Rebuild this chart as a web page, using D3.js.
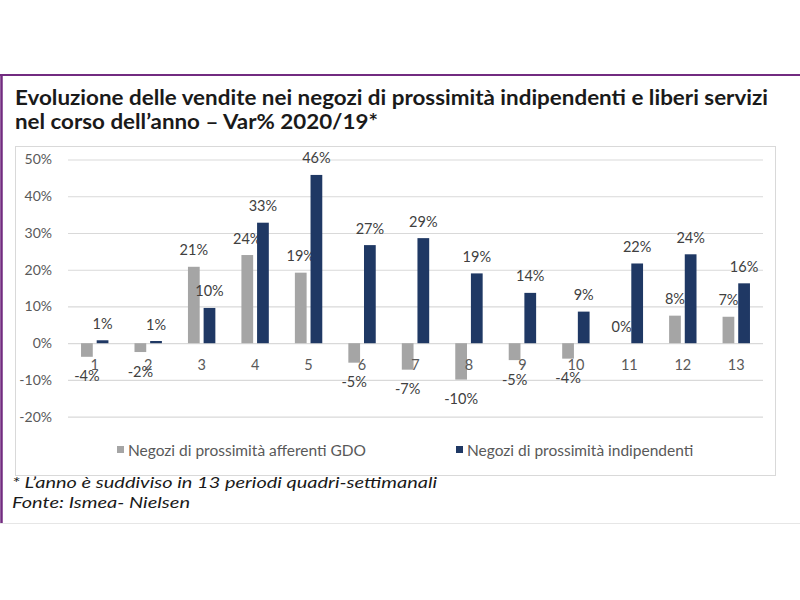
<!DOCTYPE html>
<html><head><meta charset="utf-8">
<script src="https://cdn.jsdelivr.net/npm/d3@7"></script>
<style>
html,body{margin:0;padding:0;background:#fff;}
svg{display:block;}
</style></head>
<body>
<svg id="c" width="800" height="600"></svg>
<script>
const categories = ["1","2","3","4","5","6","7","8","9","10","11","12","13"];
const seriesNames = ["Negozi di prossimità afferenti GDO","Negozi di prossimità indipendenti"];
const gdoValues = [-3.7,-2.4,20.8,24,19.2,-5.3,-7.2,-9.9,-4.6,-4.2,0,7.5,7.2];
const indValues = [0.8,0.6,9.6,32.8,45.8,26.7,28.6,19,13.7,8.6,21.7,24.2,16.3];
const yTicks = [-20,-10,0,10,20,30,40,50];
const titleLines = ["Evoluzione delle vendite nei negozi di prossimità indipendenti e liberi servizi","nel corso dell’anno – Var% 2020/19*"];
const notes = ["* L’anno è suddiviso in 13 periodi quadri-settimanali","Fonte: Ismea- Nielsen"];
const colors = ["#a5a5a5","#1f3864"];

const svg = d3.select("#c");
const font = "Lato, 'Open Sans', sans-serif";

// slide frame
svg.append("rect").attr("x",0).attr("y",0).attr("width",800).attr("height",600).attr("fill","#fff");
svg.append("line").attr("x1",0).attr("x2",800).attr("y1",75).attr("y2",75).attr("stroke","#722b80").attr("stroke-width",2);
svg.append("line").attr("x1",1.5).attr("x2",1.5).attr("y1",75).attr("y2",523).attr("stroke","#722b80").attr("stroke-width",2.5);
svg.append("line").attr("x1",0).attr("x2",800).attr("y1",523.5).attr("y2",523.5).attr("stroke","#e6e6e6").attr("stroke-width",1);

// title
const tl = [753, 363];
titleLines.forEach((t,i)=>{
  svg.append("text").attr("x",15).attr("y",105+i*23.5)
    .attr("font-family",font).attr("font-weight","bold").attr("font-size",20)
    .attr("fill","#1a1a1a").attr("textLength",tl[i]).attr("lengthAdjust","spacingAndGlyphs").text(t);
});

// chart box
svg.append("rect").attr("x",15.5).attr("y",146.5).attr("width",760).attr("height",329)
  .attr("fill","#fff").attr("stroke","#d9d9d9").attr("stroke-width",1);

const x = d3.scaleBand().domain(categories).range([68,763]).padding(0);
const y = d3.scaleLinear().domain([-20,50]).range([416.7,159.5]);
const inner = d3.scaleBand().domain([0,1])
  .range([x.bandwidth()/2-13.7, x.bandwidth()/2+13.7]).paddingInner(0.25).paddingOuter(0);

// gridlines + y axis
const yAxis = d3.axisLeft(y).tickValues(yTicks).tickFormat(d=>d+"%").tickSize(-(763-68)).tickPadding(16);
const gy = svg.append("g").attr("transform","translate(68,0)").call(yAxis);
gy.select(".domain").remove();
gy.selectAll(".tick line").attr("stroke","#d9d9d9").attr("stroke-width",1.2);
gy.selectAll(".tick text").attr("font-family",font).attr("font-size",14).attr("fill","#595959");

// bars
const series = [gdoValues, indValues];
series.forEach((vals,si)=>{
  const g = svg.append("g");
  g.selectAll("rect").data(vals).join("rect")
    .attr("x",(d,i)=>x(categories[i])+inner(si))
    .attr("width",inner.bandwidth())
    .attr("y",d=>y(Math.max(0,d)))
    .attr("height",d=>Math.abs(y(d)-y(0)))
    .attr("fill",colors[si]);
  g.selectAll("text").data(vals).join("text")
    .attr("x",(d,i)=>x(categories[i])+inner(si)+inner.bandwidth()/2)
    .attr("y",d=> d<0 ? y(d)+19 : y(d)-17)
    .attr("text-anchor","middle").attr("dominant-baseline","central")
    .attr("font-family",font).attr("font-size",14.5).attr("fill","#404040")
    .text(d=>Math.round(d)+"%");
});

// category labels
const xAxis = d3.axisBottom(x).tickSize(0).tickPadding(0);
const gx = svg.append("g").attr("transform",`translate(0,${y(0)})`).call(xAxis);
gx.select(".domain").remove();
gx.selectAll(".tick text").attr("font-family",font).attr("font-size",14.5).attr("fill","#595959")
  .attr("dy",null).attr("y",21).attr("dominant-baseline","central");

// legend
const legX = [117, 456];
seriesNames.forEach((n,i)=>{
  svg.append("rect").attr("x",legX[i]).attr("y",446).attr("width",7).attr("height",7).attr("fill",colors[i]);
  svg.append("text").attr("x",legX[i]+11).attr("y",449.5).attr("dominant-baseline","central")
    .attr("font-family",font).attr("font-size",15.5).attr("fill","#595959").text(n);
});

// notes
const nl = [425, 178];
notes.forEach((t,i)=>{
  svg.append("text").attr("x",12).attr("y",488+i*20)
    .attr("font-family",font).attr("font-style","italic").attr("font-size",15.5)
    .attr("fill","#1a1a1a").attr("textLength",nl[i]).attr("lengthAdjust","spacingAndGlyphs").text(t);
});
</script>
</body></html>
